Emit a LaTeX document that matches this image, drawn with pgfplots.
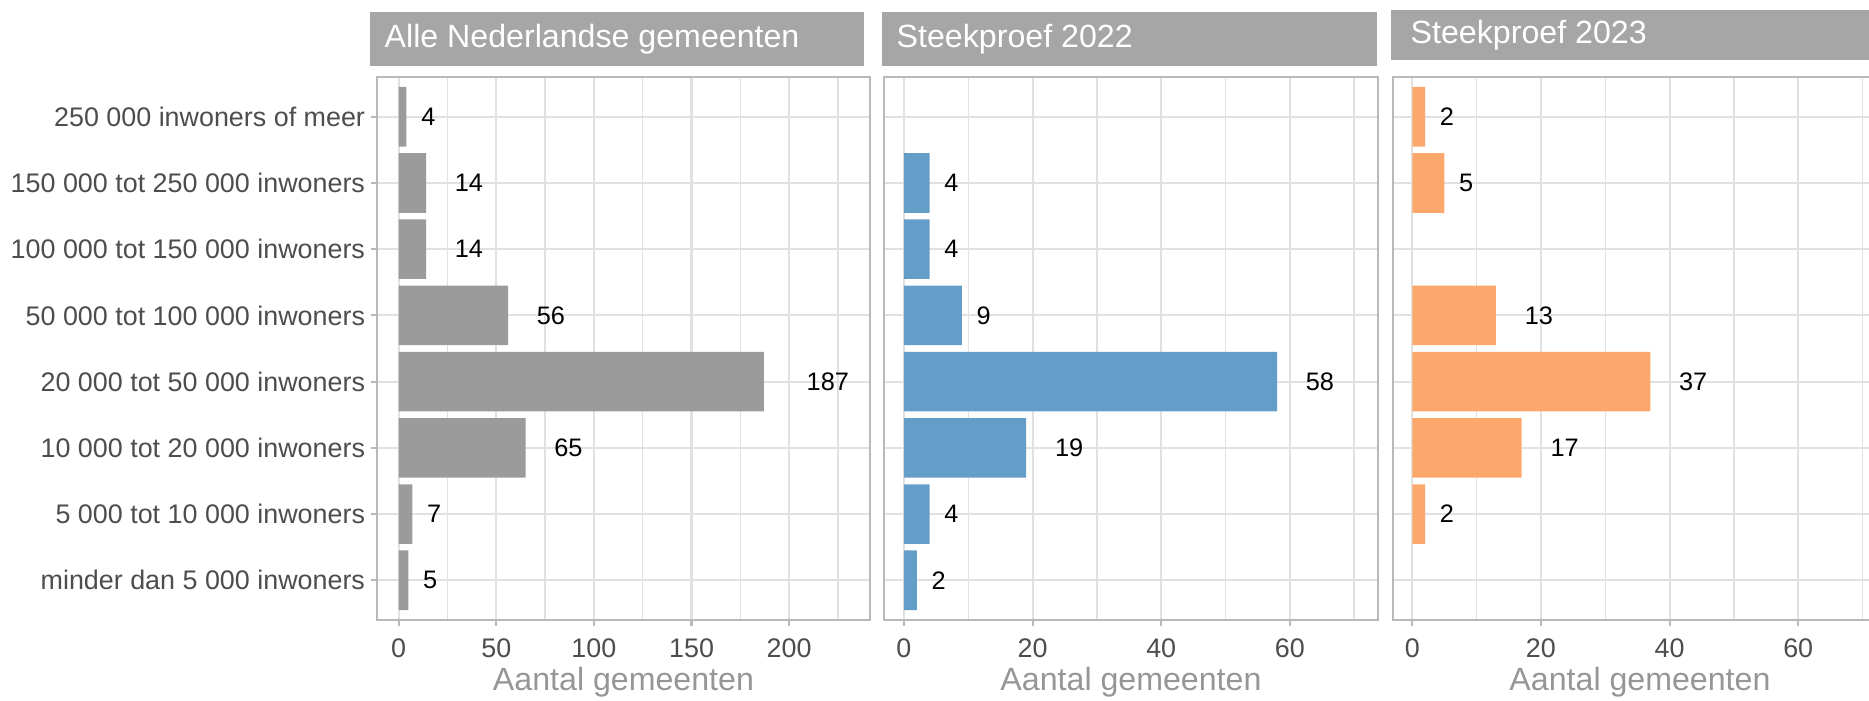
\documentclass[border=0pt]{standalone}
\usepackage{fontspec}
\setmainfont{Liberation Sans}
\usepackage{pgfplots}
\usepackage{pgfplotstable}
\pgfplotsset{compat=1.18}

\definecolor{barGrey}{RGB}{155,155,155}
\definecolor{barBlue}{RGB}{101,157,201}
\definecolor{barOrange}{RGB}{252,167,107}
\definecolor{stripGrey}{RGB}{166,166,166}
\definecolor{frameGrey}{RGB}{185,185,185}
\definecolor{gridGrey}{RGB}{225,225,225}
\definecolor{tickText}{RGB}{77,77,77}
\definecolor{titleText}{RGB}{150,150,150}

% y: 1 = minder dan 5 000 ... 8 = 250 000 of meer
\pgfplotstableread{
y n
1 5
2 7
3 65
4 187
5 56
6 14
7 14
8 4
}\alle
\pgfplotstableread{
y n
1 2
2 4
3 19
4 58
5 9
6 4
7 4
}\sptwee
\pgfplotstableread{
y n
2 2
3 17
4 37
5 13
7 5
8 2
}\spdrie

\pgfplotsset{
  panel/.style={
    scale only axis, height=5.43cm, anchor=south west,
    xbar, bar width=0.9, ymin=0.4, ymax=8.6, ytick={1,...,8},
    axis line style={frameGrey, line width=0.6pt},
    grid style={gridGrey, line width=0.6pt},
    minor grid style={gridGrey, line width=0.4pt},
    xmajorgrids, xminorgrids, ymajorgrids,
    tick pos=left,
    tick align=outside, major tick length=0.06cm, minor tick length=0pt,
    tick style={frameGrey, line width=0.6pt},
    tick label style={font=\fontsize{7.65}{9}\selectfont, color=tickText},
    /pgf/number format/assume math mode=true,
    xlabel={Aantal gemeenten},
    xlabel style={font=\fontsize{9.15}{11}\selectfont, color=titleText,
      at={(axis description cs:0.5,-0.114)}, anchor=center},
    point meta=x,
    nodes near coords={\phantom{\pgfmathprintnumber{\pgfplotspointmeta}}\pgfmathprintnumber{\pgfplotspointmeta}},
    nodes near coords style={anchor=west, inner sep=0pt,
      font=\fontsize{7.2}{9}\selectfont, color=black},
  },
}

\begin{document}
\begin{tikzpicture}
\begin{axis}[panel, at={(3.77cm,0.80cm)}, width=4.93cm,
  xmin=-11.1, xmax=241.4, xtick={0,50,100,150,200}, minor xtick={25,75,125,175,225},
  yticklabels={minder dan 5 000 inwoners, 5 000 tot 10 000 inwoners,
    10 000 tot 20 000 inwoners, 20 000 tot 50 000 inwoners,
    50 000 tot 100 000 inwoners, 100 000 tot 150 000 inwoners,
    150 000 tot 250 000 inwoners, 250 000 inwoners of meer},
  yticklabel style={inner sep=1.5pt}]
\addplot[fill=barGrey, draw=none] table[x=n, y=y]{\alle};
\end{axis}

\begin{axis}[panel, at={(8.84cm,0.80cm)}, width=4.94cm,
  xmin=-3.1, xmax=73.7, xtick={0,20,40,60}, minor xtick={10,30,50,70},
  yticklabels={}, ymajorticks=false]
\addplot[fill=barBlue, draw=none] table[x=n, y=y]{\sptwee};
\end{axis}

\begin{axis}[panel, at={(13.93cm,0.80cm)}, width=4.94cm,
  xmin=-3.0, xmax=73.8, xtick={0,20,40,60}, minor xtick={10,30,50,70},
  yticklabels={}, ymajorticks=false]
\addplot[fill=barOrange, draw=none] table[x=n, y=y]{\spdrie};
\end{axis}

% facet strips
\fill[stripGrey] (3.70,6.34) rectangle (8.64,6.88);
\node[anchor=west, text=white, font=\fontsize{9.15}{11}\selectfont, inner sep=0pt]
  at (3.84,6.61) {Alle Nederlandse gemeenten};
\fill[stripGrey] (8.82,6.34) rectangle (13.77,6.88);
\node[anchor=west, text=white, font=\fontsize{9.15}{11}\selectfont, inner sep=0pt]
  at (8.96,6.61) {Steekproef 2022};
\fill[stripGrey] (13.91,6.40) rectangle (19.00,6.90);
\node[anchor=west, text=white, font=\fontsize{9.15}{11}\selectfont, inner sep=0pt]
  at (14.10,6.65) {Steekproef 2023};

\pgfresetboundingbox
\useasboundingbox (0,0) rectangle (18.69,7);
\end{tikzpicture}
\end{document}
